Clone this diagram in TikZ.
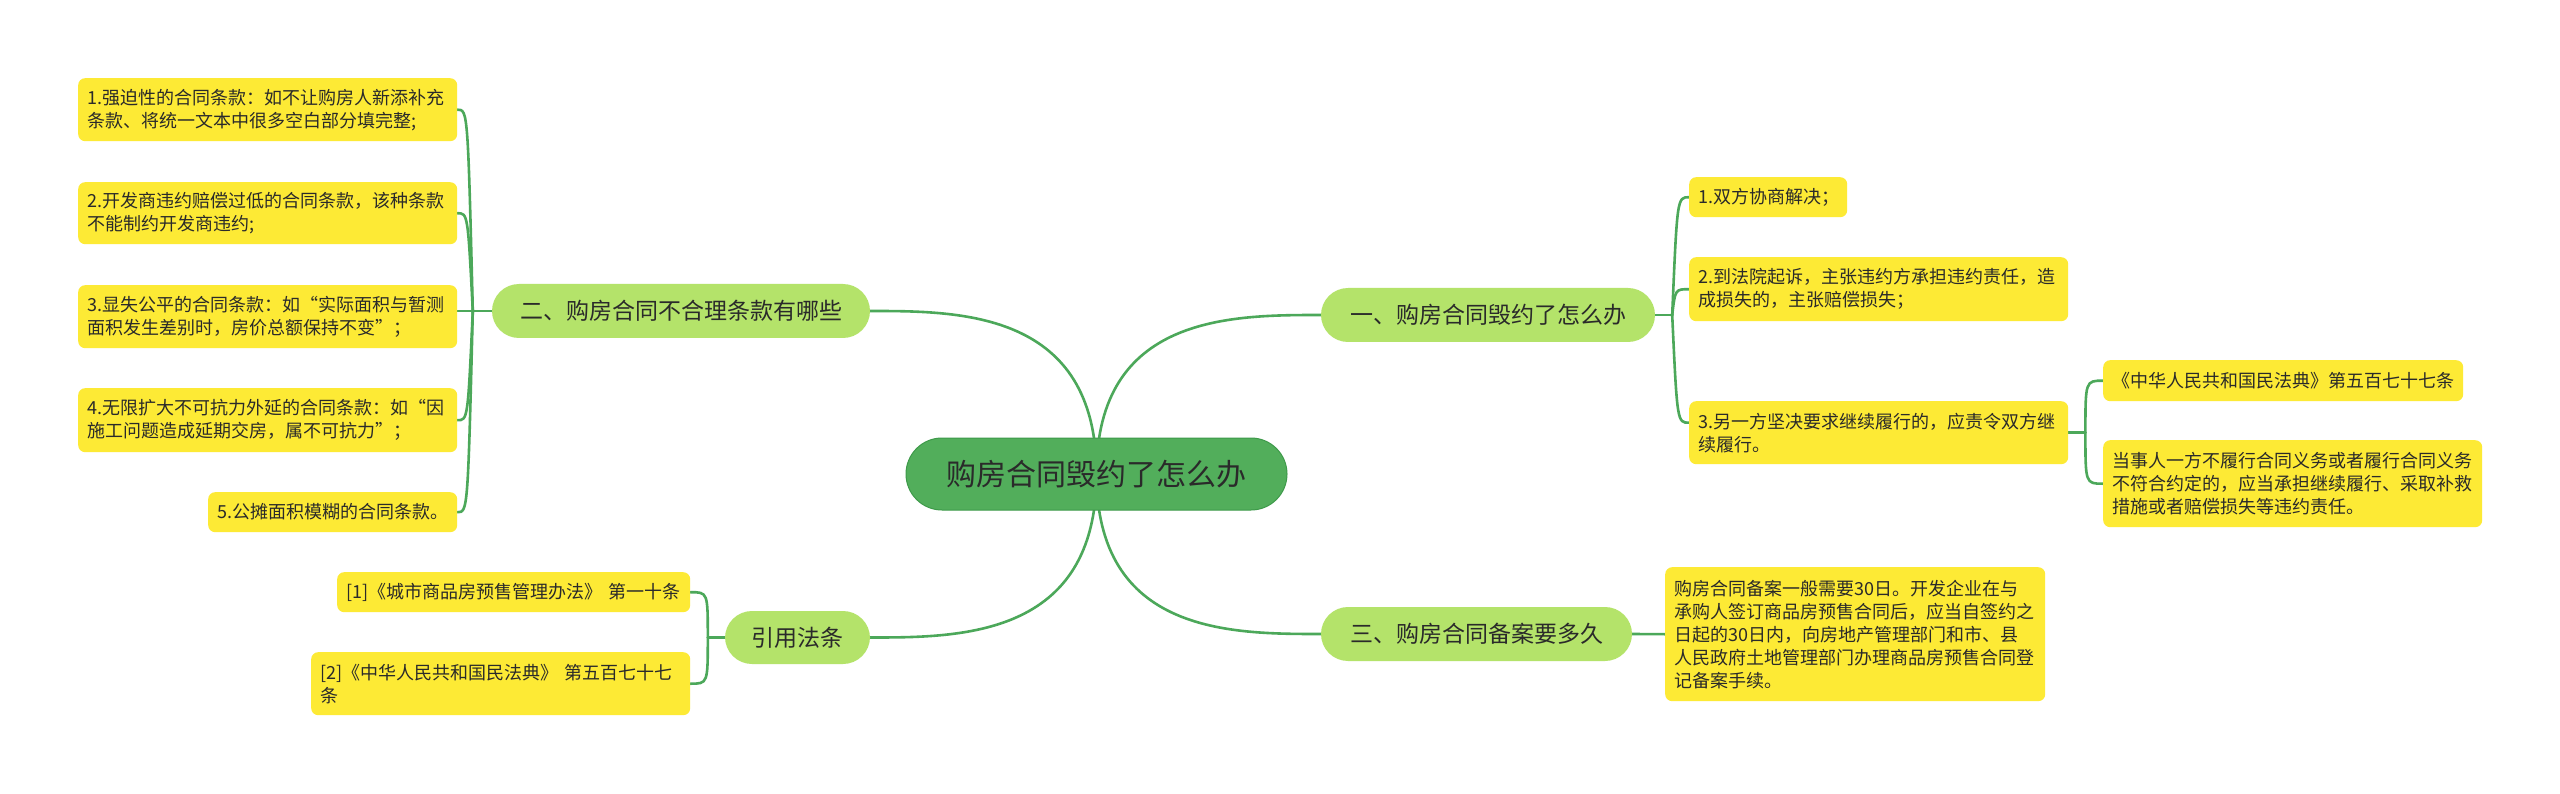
\documentclass[tikz,border=0pt]{standalone}
\usepackage{fontspec}
\setmainfont{Noto Sans CJK SC}
\usetikzlibrary{calc}
\definecolor{leafc}{HTML}{FDEA35}
\definecolor{topc}{HTML}{B4E36A}
\definecolor{rootc}{HTML}{52AE5B}
\definecolor{rootb}{HTML}{3E9A4A}
\definecolor{linec}{HTML}{4CA85A}
\definecolor{txt}{HTML}{2A2A2A}
\pgfdeclarelayer{back}
\pgfdeclarelayer{bg}
\pgfsetlayers{back,bg,main}
\tikzset{
  leaf/.style={fill=leafc, rounded corners=7pt, inner xsep=9pt, inner ysep=0pt,
    anchor=north west, align=left, text=txt, font=\fontsize{18pt}{23pt}\selectfont},
  topic/.style={fill=topc, rounded corners=27pt, inner sep=0pt, minimum height=54pt,
    text=txt, font=\fontsize{23pt}{28pt}\selectfont},
  rootnode/.style={fill=rootc, draw=rootb, line width=1pt, rounded corners=36pt,
    inner sep=0pt, minimum width=381pt, minimum height=72pt, text=txt,
    font=\fontsize{30pt}{36pt}\selectfont},
  conn/.style={draw=linec, line width=2.6pt, line cap=round},
}
\begin{document}
\begin{tikzpicture}[x=1pt,y=-1pt]
\begin{pgfonlayer}{back}
\fill[white] (0,0) rectangle (2560,794);
\end{pgfonlayer}
\useasboundingbox (0,0) rectangle (2560,794);

% root and topics
\node[rootnode] (root) at (1096.5,474) {购房合同毁约了怎么办};
\node[topic, minimum width=378pt] (n2) at (681,311) {二、购房合同不合理条款有哪些};
\node[topic, minimum width=334pt] (n1) at (1488,315) {一、购房合同毁约了怎么办};
\node[topic, minimum width=311pt] (n3) at (1476.5,634) {三、购房合同备案要多久};
\node[topic, minimum width=145pt, minimum height=53pt] (ref) at (797.5,637.5) {引用法条};

% left leaves
\node[leaf, text width=361pt, minimum height=63pt] (L1) at (78,78)
  {1.强迫性的合同条款：如不让购房人新添补充\\条款、将统一文本中很多空白部分填完整;};
\node[leaf, text width=361pt, minimum height=62pt] (L2) at (78,182)
  {2.开发商违约赔偿过低的合同条款，该种条款\\不能制约开发商违约;};
\node[leaf, text width=361pt, minimum height=63pt] (L3) at (78,285)
  {3.显失公平的合同条款：如“实际面积与暂测\\面积发生差别时，房价总额保持不变”；};
\node[leaf, text width=361pt, minimum height=64pt] (L4) at (78,388)
  {4.无限扩大不可抗力外延的合同条款：如“因\\施工问题造成延期交房，属不可抗力”；};
\node[leaf, text width=231pt, minimum height=40pt] (L5) at (208,492)
  {5.公摊面积模糊的合同条款。};

\node[leaf, text width=335pt, minimum height=40pt, inner xsep=9pt] (R1) at (337,572)
  {[1]《城市商品房预售管理办法》 第一十条};
\node[leaf, text width=361pt, minimum height=63pt] (R2) at (311,652)
  {[2]《中华人民共和国民法典》 第五百七十七\\条};

% right leaves
\node[leaf, text width=140pt, minimum height=40pt] (A1) at (1689,177)
  {1.双方协商解决；};
\node[leaf, text width=361pt, minimum height=64pt] (A2) at (1689,257)
  {2.到法院起诉，主张违约方承担违约责任，造\\成损失的，主张赔偿损失；};
\node[leaf, text width=361pt, minimum height=63pt] (A3) at (1689,401)
  {3.另一方坚决要求继续履行的，应责令双方继\\续履行。};
\node[leaf, text width=342pt, minimum height=41pt] (A3a) at (2103,360)
  {《中华人民共和国民法典》第五百七十七条};
\node[leaf, text width=361pt, minimum height=87pt] (A3b) at (2103,440)
  {当事人一方不履行合同义务或者履行合同义务\\不符合约定的，应当承担继续履行、采取补救\\措施或者赔偿损失等违约责任。};
\node[leaf, text width=362pt, minimum height=134pt] (C1) at (1665,567)
  {购房合同备案一般需要30日。开发企业在与\\承购人签订商品房预售合同后，应当自签约之\\日起的30日内，向房地产管理部门和市、县\\人民政府土地管理部门办理商品房预售合同登\\记备案手续。};

% junctions
\coordinate (J2) at ($(n2.west)+(-19,0)$);
\coordinate (J1) at ($(n1.east)+(17,0)$);
\coordinate (J3) at ($(A3.east)+(17,0)$);
\coordinate (JR) at ($(ref.west)+(-17,0)$);

\begin{pgfonlayer}{bg}
% root connectors
\draw[conn] (root.center) .. controls (root.center |- n2.east) and ($(n2.east)+(90,0)$) .. (n2.east);
\draw[conn] (root.center) .. controls (root.center |- n1.west) and ($(n1.west)+(-90,0)$) .. (n1.west);
\draw[conn] (root.center) .. controls (root.center |- ref.east) and ($(ref.east)+(90,0)$) .. (ref.east);
\draw[conn] (root.center) .. controls (root.center |- n3.west) and ($(n3.west)+(-90,0)$) .. (n3.west);

% left bracket
\draw[conn] (n2.west) -- (L3.east |- n2.west);
\foreach \n in {L1,L2,L4,L5}
  \draw[conn] (J2) .. controls ($(J2 |- \n.east)+(-5,0)$) and ($(J2 |- \n.east)+(-5,0)$) .. (\n.east);

% right bracket
\draw[conn] (n1.east) -- (J1);
\draw[conn] (J1) .. controls ($(J1 |- A1.west)+(5,0)$) and ($(J1 |- A1.west)+(5,0)$) .. (A1.west);
\draw[conn] (J1) .. controls ($(J1 |- A2.west)+(3,0)$) and ($(J1 |- A2.west)+(3,0)$) .. (A2.west);
\coordinate (A3in) at ($(A3.west)+(0,-10)$);
\draw[conn] (J1) .. controls ($(J1 |- A3in)+(5,0)$) and ($(J1 |- A3in)+(5,0)$) .. (A3in);

% A3 sub bracket
\draw[conn] (A3.east) -- (J3);
\foreach \n in {A3a,A3b}
  \draw[conn] (J3) .. controls (J3 |- \n.west) and (J3 |- \n.west) .. (\n.west);

% ref bracket
\draw[conn] (ref.west) -- (JR);
\foreach \n in {R1,R2}
  \draw[conn] (JR) .. controls (JR |- \n.east) and (JR |- \n.east) .. (\n.east);

% topic three
\draw[conn] (n3.east) -- (C1.west);
\end{pgfonlayer}
\end{tikzpicture}
\end{document}
